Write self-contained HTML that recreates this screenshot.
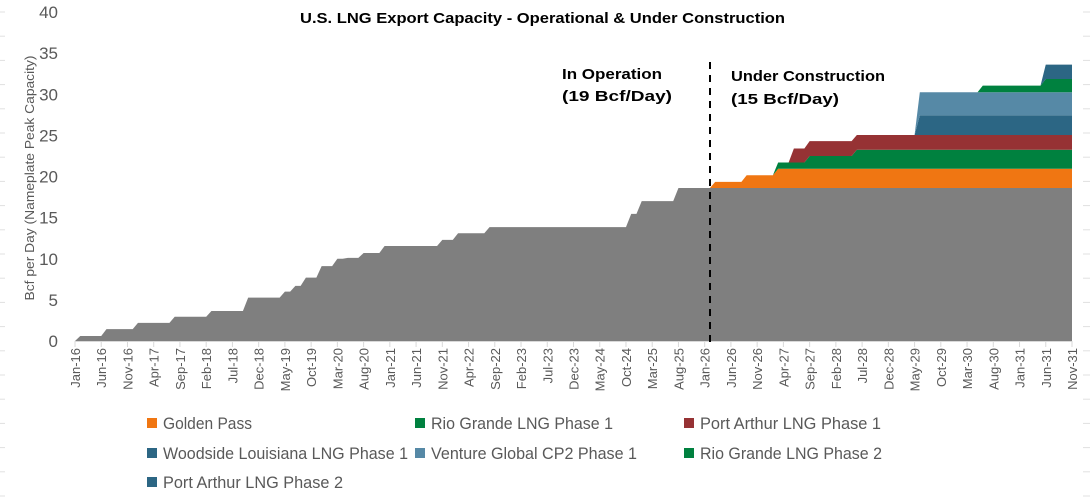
<!DOCTYPE html>
<html><head><meta charset="utf-8"><style>
html,body{margin:0;padding:0;background:#fff;}
body{width:1090px;height:497px;overflow:hidden;font-family:"Liberation Sans",sans-serif;}
</style></head><body>
<svg id="chart" width="1090" height="497" xmlns="http://www.w3.org/2000/svg" font-family="Liberation Sans, sans-serif">
<g id="edge"></g>
<text x="300" y="23" textLength="485" lengthAdjust="spacingAndGlyphs" font-size="15" font-weight="bold" fill="#000">U.S. LNG Export Capacity - Operational &amp; Under Construction</text>
<text transform="translate(34,178) rotate(-90)" text-anchor="middle" textLength="245" lengthAdjust="spacingAndGlyphs" font-size="13" fill="#595959">Bcf per Day (Nameplate Peak Capacity)</text>
<g id="yticks"></g>
<g id="areas"></g>
<g id="xaxis"></g>
<line x1="710" y1="62" x2="710" y2="348" stroke="#000" stroke-width="2" stroke-dasharray="7,6"/>
<text x="562" y="79" textLength="100" lengthAdjust="spacingAndGlyphs" font-size="15" font-weight="bold">In Operation</text>
<text x="562" y="101" textLength="110" lengthAdjust="spacingAndGlyphs" font-size="15" font-weight="bold">(19 Bcf/Day)</text>
<text x="731" y="81" textLength="154" lengthAdjust="spacingAndGlyphs" font-size="15" font-weight="bold">Under Construction</text>
<text x="731" y="104" textLength="108" lengthAdjust="spacingAndGlyphs" font-size="15" font-weight="bold">(15 Bcf/Day)</text>
<g id="legend"></g>
</svg>
<script>
const NS="http://www.w3.org/2000/svg";
// month index 0 = Jan-16; steps: [monthIndex, value from that month]
const operational=[[0,0],[1,0.6],[6,1.45],[12,2.2],[19,2.95],[26,3.65],[33,5.27],[40,6.0],[42,6.7],[44,7.7],[47,9.1],[50,10.0],[52,10.1],[55,10.7],[59,11.55],[70,12.3],[73,13.1],[79,13.85],[106,15.45],[108,17.0],[115,18.6]];
const goldenPass=[[0,0],[122,0.75],[128,1.55],[134,2.35]];
const rioGrande1=[[0,0],[134,0.75],[140,1.55],[149,2.3]];
const portArthur1=[[0,0],[137,1.7],[140,1.8],[149,1.8]];
const woodside1=[[0,0],[161,2.4]];
const cp2=[[0,0],[161,2.8]];
const rioGrande2=[[0,0],[173,0.8],[185,1.6]];
const portArthur2=[[0,0],[185,1.75]];
const seriesNames=["Golden Pass","Rio Grande LNG Phase 1","Port Arthur LNG Phase 1","Woodside Louisiana LNG Phase 1","Venture Global CP2 Phase 1","Rio Grande LNG Phase 2","Port Arthur LNG Phase 2"];
const seriesColors=["#F07612","#00813F","#963234","#2C6684","#5689A6","#00813F","#2C6684"];
const legendWidths=[89,182,181,245,206,182,180];
const yTicks=[0,5,10,15,20,25,30,35,40];
const monthNames=["Jan","Feb","Mar","Apr","May","Jun","Jul","Aug","Sep","Oct","Nov","Dec"];
const lastMonth=190;

const X0=75,X1=1072,Y0=341,Y1=12;
const xs=m=>X0+(X1-X0)*m/lastMonth;
const ys=v=>Y0-(Y0-Y1)*v/40;
function monthly(steps){const a=[];for(let m=0;m<=lastMonth;m++){let v=0;for(const s of steps){if(s[0]<=m)v=s[1];}a.push(v);}return a;}
const all=[operational,goldenPass,rioGrande1,portArthur1,woodside1,cp2,rioGrande2,portArthur2].map(monthly);
const colors=["#7F7F7F"].concat(seriesColors);
const areas=document.getElementById('areas');
let base=new Array(lastMonth+1).fill(0);
all.forEach((ser,i)=>{
  const top=ser.map((v,m)=>base[m]+v);
  let d="";
  for(let m=0;m<=lastMonth;m++)d+=(m?"L":"M")+xs(m).toFixed(2)+","+ys(top[m]).toFixed(2);
  for(let m=lastMonth;m>=0;m--)d+="L"+xs(m).toFixed(2)+","+ys(base[m]).toFixed(2);
  const p=document.createElementNS(NS,'path');
  p.setAttribute('d',d+"Z");p.setAttribute('fill',colors[i]);
  
  
  areas.appendChild(p);
  base=top;
});
const yt=document.getElementById('yticks');
yTicks.forEach(v=>{const t=document.createElementNS(NS,'text');t.setAttribute('x',58);t.setAttribute('y',ys(v)+6);t.setAttribute('text-anchor','end');t.setAttribute('font-size','17');t.setAttribute('fill','#595959');t.textContent=v;


yt.appendChild(t);});
const xa=document.getElementById('xaxis');
const ax=document.createElementNS(NS,'line');ax.setAttribute('x1',X0);ax.setAttribute('x2',X1);ax.setAttribute('y1',Y0+0.5);ax.setAttribute('y2',Y0+0.5);ax.setAttribute('stroke','#D9D9D9');


xa.appendChild(ax);
for(let m=0;m<=lastMonth;m+=5){
  const x=xs(m);
  const tk=document.createElementNS(NS,'line');tk.setAttribute('x1',x);tk.setAttribute('x2',x);tk.setAttribute('y1',Y0);tk.setAttribute('y2',Y0+6);tk.setAttribute('stroke','#D9D9D9');
  
  
  xa.appendChild(tk);
  const lbl=monthNames[m%12]+"-"+(16+Math.floor(m/12));
  const t=document.createElementNS(NS,'text');t.setAttribute('transform','translate('+(x+5)+','+(Y0+7)+') rotate(-90)');t.setAttribute('text-anchor','end');t.setAttribute('font-size','13');t.setAttribute('fill','#595959');t.textContent=lbl;
  
  
  xa.appendChild(t);
}
const lg=document.getElementById('legend');
const cols=[147,415,684],rows=[423,453,482];
seriesNames.forEach((n,i)=>{
  const x=cols[i%3],y=rows[Math.floor(i/3)];
  const g=document.createElementNS(NS,'g');
  
  
  const r=document.createElementNS(NS,'rect');r.setAttribute('x',x);r.setAttribute('y',y-5);r.setAttribute('width',10);r.setAttribute('height',10);r.setAttribute('fill',seriesColors[i]);
  const t=document.createElementNS(NS,'text');t.setAttribute('x',x+16);t.setAttribute('y',y+6);t.setAttribute('font-size','17');t.setAttribute('fill','#595959');t.setAttribute('textLength',legendWidths[i]);t.setAttribute('lengthAdjust','spacingAndGlyphs');t.textContent=n;
  g.appendChild(r);g.appendChild(t);lg.appendChild(g);
});
const ed=document.getElementById('edge');
for(let y=12;y<497;y+=24.2){
  [[0,5],[1083,1090]].forEach(p=>{const l=document.createElementNS(NS,'line');l.setAttribute('x1',p[0]);l.setAttribute('x2',p[1]);l.setAttribute('y1',y);l.setAttribute('y2',y);l.setAttribute('stroke','#E0E0E0');
  
  
  ed.appendChild(l);});
}
</script>
</body></html>
